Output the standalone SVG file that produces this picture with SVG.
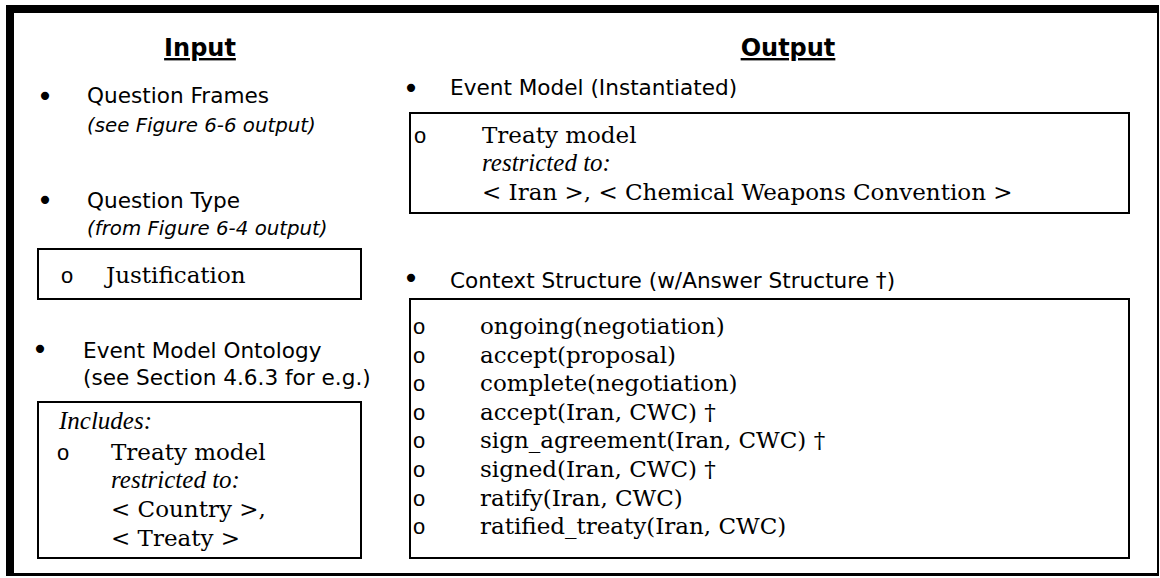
<svg xmlns="http://www.w3.org/2000/svg" width="1160" height="578" viewBox="0 0 1160 578">
<style>
.sans{font-family:"DejaVu Sans","Liberation Sans",sans-serif;font-size:21.6px;fill:#000}
.it{font-style:italic;font-size:19.8px}
.head{font-family:"DejaVu Sans","Liberation Sans",sans-serif;font-size:24px;font-weight:bold;text-decoration:underline;fill:#000}
.serif{font-family:"DejaVu Serif","Liberation Serif",serif;font-size:23px;fill:#000}
.sit{font-family:"Liberation Serif","DejaVu Serif",serif;font-style:italic;font-size:25px;fill:#000}
.bul{font-family:"DejaVu Sans",sans-serif;font-size:28px;fill:#000}
.ob{font-family:"Liberation Mono","DejaVu Sans Mono",monospace;font-size:22px;fill:#000}
.box{fill:#fff;stroke:#000;stroke-width:2}
</style>
<rect width="1160" height="578" fill="#fff"/>
<path d="M6,5H1159V576H6Z M14,13V573H1157V13Z" fill="#000" fill-rule="evenodd"/>

<g id="input-heading"><text class="head" x="200" y="56" text-anchor="middle">Input</text></g>
<g id="output-heading"><text class="head" x="788" y="56" text-anchor="middle">Output</text></g>

<g id="question-frames">
<text class="bul" x="45" y="106" text-anchor="middle">•</text>
<text class="sans" x="87" y="103">Question Frames</text>
<text class="sans it" x="87" y="132">(see Figure 6-6 output)</text>
</g>

<g id="question-type">
<text class="bul" x="45" y="210" text-anchor="middle">•</text>
<text class="sans" x="87" y="208">Question Type</text>
<text class="sans it" x="87" y="235">(from Figure 6-4 output)</text>
</g>

<g id="justification-box">
<rect class="box" x="38" y="249" width="323" height="50"/>
<text class="ob" x="67" y="283" text-anchor="middle">o</text>
<text class="serif" x="106" y="283">Justification</text>
</g>

<g id="event-model-ontology">
<text class="bul" x="40" y="359" text-anchor="middle">•</text>
<text class="sans" x="83" y="358">Event Model Ontology</text>
<text class="sans" x="83" y="385">(see Section 4.6.3 for e.g.)</text>
</g>

<g id="includes-box">
<rect class="box" x="38" y="402" width="323" height="156"/>
<text class="sit" x="59" y="429">Includes:</text>
<text class="ob" x="63" y="460" text-anchor="middle">o</text>
<text class="serif" x="111" y="460">Treaty model</text>
<text class="sit" x="111" y="488">restricted to:</text>
<text class="serif" x="111" y="517">&lt; Country &gt;,</text>
<text class="serif" x="111" y="546">&lt; Treaty &gt;</text>
</g>

<g id="event-model-instantiated">
<text class="bul" x="411" y="98" text-anchor="middle">•</text>
<text class="sans" x="450" y="95">Event Model (Instantiated)</text>
</g>

<g id="event-model-box">
<rect class="box" x="410" y="113" width="719" height="100"/>
<text class="ob" x="420" y="143" text-anchor="middle">o</text>
<text class="serif" x="482" y="143">Treaty model</text>
<text class="sit" x="482" y="171">restricted to:</text>
<text class="serif" x="482" y="200">&lt; Iran &gt;, &lt; Chemical Weapons Convention &gt;</text>
</g>

<g id="context-structure">
<text class="bul" x="411" y="288" text-anchor="middle">•</text>
<text class="sans" x="450" y="288">Context Structure (w/Answer Structure †)</text>
</g>

<g id="context-box">
<rect class="box" x="410" y="299" width="719" height="259"/>
<g class="ob" text-anchor="middle">
<text x="419" y="334">o</text>
<text x="419" y="363">o</text>
<text x="419" y="391">o</text>
<text x="419" y="420">o</text>
<text x="419" y="448">o</text>
<text x="419" y="477">o</text>
<text x="419" y="506">o</text>
<text x="419" y="534">o</text>
</g>
<text class="serif" x="480" y="334">ongoing(negotiation)</text>
<text class="serif" x="480" y="363">accept(proposal)</text>
<text class="serif" x="480" y="391">complete(negotiation)</text>
<text class="serif" x="480" y="420">accept(Iran, CWC) †</text>
<text class="serif" x="480" y="448">sign_agreement(Iran, CWC) †</text>
<text class="serif" x="480" y="477">signed(Iran, CWC) †</text>
<text class="serif" x="480" y="506">ratify(Iran, CWC)</text>
<text class="serif" x="480" y="534">ratified_treaty(Iran, CWC)</text>
</g>

<g id="connectors"/>
</svg>
